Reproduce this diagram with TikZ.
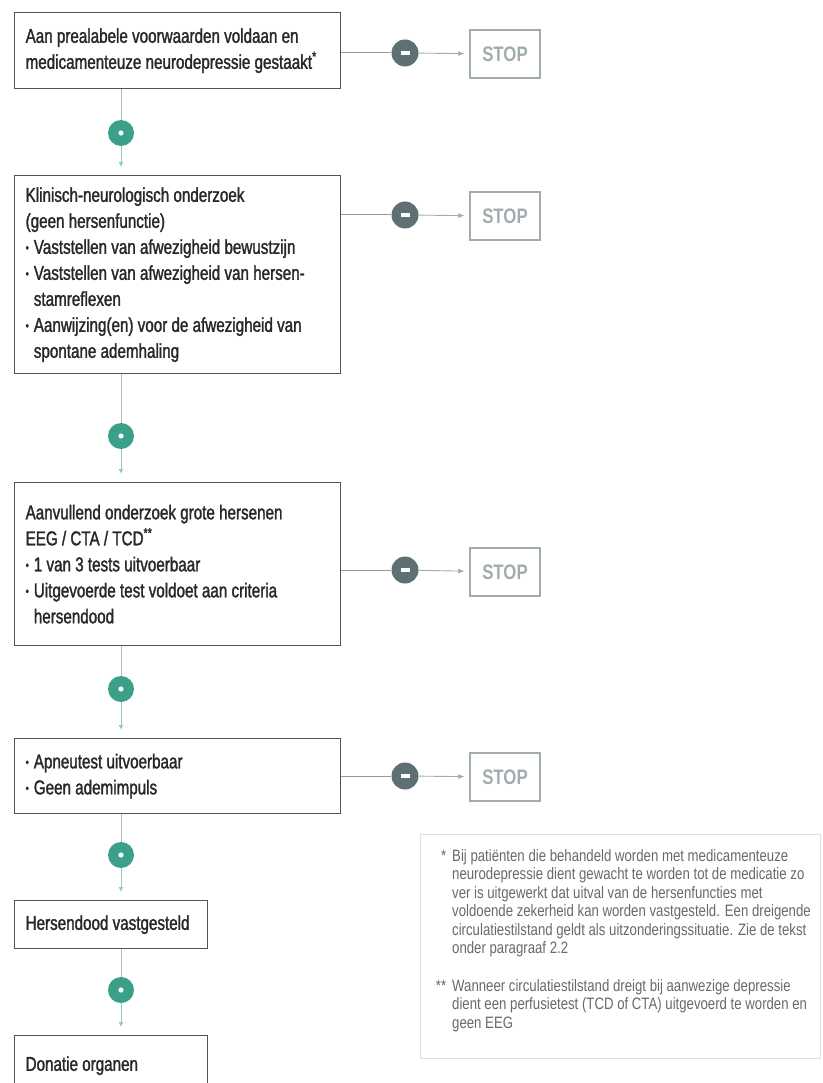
\documentclass[tikz,border=0pt]{standalone}
\usepackage{fontspec}
\setmainfont[FakeStretch=0.8]{Liberation Sans}
\newfontfamily\boxfont[FakeStretch=0.76, FakeBold=1.5]{Liberation Sans}
\usepackage{tikz}
\usetikzlibrary{arrows.meta}

\definecolor{flowgreen}{RGB}{58,160,137}
\definecolor{flowgrey}{RGB}{94,112,116}
\definecolor{stopgrey}{RGB}{160,172,174}
\definecolor{textgrey}{RGB}{40,40,40}
\definecolor{notegrey}{RGB}{105,105,105}

\newcommand{\boxtext}{\boxfont\fontsize{20}{26}\selectfont}
\newcommand{\notetext}{\fontsize{16.5}{18.5}\selectfont}
\newcommand{\bul}{\raisebox{2pt}{\fontsize{12}{12}\selectfont\textbullet}\hspace{5pt}}
\newcommand{\ind}{\phantom{\bul}}
\newcommand{\notemark}[1]{\makebox[14pt][r]{#1}\hspace{6pt}}

\begin{document}
\begin{tikzpicture}[x=1pt,y=-1pt]
	\tikzstyle{stepbox} = [draw=textgrey!80, line width=1.3pt, anchor=north west, inner xsep=11pt, inner ysep=0pt, align=flush left, text=textgrey, font=\boxtext]
	\tikzstyle{yesdot} = [circle, fill=flowgreen, minimum size=26pt, inner sep=0pt]
	\tikzstyle{nodot} = [circle, fill=flowgrey, minimum size=27pt, inner sep=0pt]
	\tikzstyle{stopbox} = [draw=stopgrey, line width=1.2pt, minimum width=70pt, minimum height=48pt, text=stopgrey, font=\fontsize{21}{21}\selectfont\bfseries]
	\tikzstyle{downline} = [draw=gray!55, line width=0.9pt]
	\tikzstyle{downarrow} = [draw=flowgreen!55, line width=0.9pt, shorten >=8pt, -{Latex[length=5pt,width=5pt]}]
	\tikzstyle{sideline} = [draw=gray!80, line width=1pt]
	\tikzstyle{sidearrow} = [draw=stopgrey, line width=0.9pt, shorten >=5pt, -{Latex[length=6pt,width=5pt]}]

	\clip (0,0) rectangle (822,1083);

	\draw (14,12) node[stepbox, text width=304pt, minimum height=76pt] (b1) {Aan prealabele voorwaarden voldaan en\\medicamenteuze neurodepressie gestaakt\textsuperscript{*}};
	\draw (14,175) node[stepbox, text width=304pt, minimum height=198pt] (b2) {Klinisch-neurologisch onderzoek\\(geen hersenfunctie)\\\bul Vaststellen van afwezigheid bewustzijn\\\bul Vaststellen van afwezigheid van hersen-\\\ind stamreflexen\\\bul Aanwijzing(en) voor de afwezigheid van\\\ind spontane ademhaling};
	\draw (14,482) node[stepbox, text width=304pt, minimum height=163pt] (b3) {Aanvullend onderzoek grote hersenen\\EEG / CTA / TCD\textsuperscript{**}\\\bul 1 van 3 tests uitvoerbaar\\\bul Uitgevoerde test voldoet aan criteria\\\ind hersendood};
	\draw (14,738) node[stepbox, text width=304pt, minimum height=75pt] (b4) {\bul Apneutest uitvoerbaar\\\bul Geen ademimpuls};
	\draw (14,900) node[stepbox, text width=171pt, minimum height=48pt] (b5) {Hersendood vastgesteld};
	\draw (14,1035) node[stepbox, text width=171pt, minimum height=60pt] (b6) {Donatie organen};

	\draw (121,133) node[yesdot] (g1) {};
	\draw (121,436) node[yesdot] (g2) {};
	\draw (121,689) node[yesdot] (g3) {};
	\draw (121,855) node[yesdot] (g4) {};
	\draw (121,990) node[yesdot] (g5) {};

	\draw (405,53) node[nodot] (m1) {};
	\draw (405,215) node[nodot] (m2) {};
	\draw (405,570) node[nodot] (m3) {};
	\draw (405,776) node[nodot] (m4) {};

	\draw (505,54) node[stopbox] (s1) {STOP};
	\draw (505,216) node[stopbox] (s2) {STOP};
	\draw (505,572) node[stopbox] (s3) {STOP};
	\draw (505,777) node[stopbox] (s4) {STOP};

	% dot and bar marks inside the circles
	\foreach \g in {g1,g2,g3,g4,g5}
		\fill[white] (\g) circle (2.6pt);
	\foreach \m in {m1,m2,m3,m4}
		\fill[white] ([xshift=-4.5pt,yshift=-1.6pt]\m.center) rectangle ([xshift=4.5pt,yshift=1.6pt]\m.center);

	\draw[downline] (g1 |- b1.south) -- (g1);
	\draw[downarrow] (g1) -- (g1 |- b2.north);
	\draw[downline] (g2 |- b2.south) -- (g2);
	\draw[downarrow] (g2) -- (g2 |- b3.north);
	\draw[downline] (g3 |- b3.south) -- (g3);
	\draw[downarrow] (g3) -- (g3 |- b4.north);
	\draw[downline] (g4 |- b4.south) -- (g4);
	\draw[downarrow] (g4) -- (g4 |- b5.north);
	\draw[downline] (g5 |- b5.south) -- (g5);
	\draw[downarrow] (g5) -- (g5 |- b6.north);

	\draw[sideline] (m1 -| b1.east) -- (m1);
	\draw[sidearrow] (m1) -- (s1);
	\draw[sideline] (m2 -| b2.east) -- (m2);
	\draw[sidearrow] (m2) -- (s2);
	\draw[sideline] (m3 -| b3.east) -- (m3);
	\draw[sidearrow] (m3) -- (s3);
	\draw[sideline] (m4 -| b4.east) -- (m4);
	\draw[sidearrow] (m4) -- (s4);

	% footnotes
	\draw (420,834) node[draw=gray!25, line width=1pt, anchor=north west, minimum width=400pt, minimum height=224pt] (nb) {};
	\node[anchor=north west, align=left, inner sep=0pt, text=notegrey, font=\notetext] (nt) at ([xshift=12pt,yshift=-15pt]nb.north west) {\notemark{*}Bij patiënten die behandeld worden met medicamenteuze\\\notemark{}neurodepressie dient gewacht te worden tot de medicatie zo\\\notemark{}ver is uitgewerkt dat uitval van de hersenfuncties met\\\notemark{}voldoende zekerheid kan worden vastgesteld. Een dreigende\\\notemark{}circulatiestilstand geldt als uitzonderingssituatie. Zie de tekst\\\notemark{}onder paragraaf 2.2\\[19pt]\notemark{**}Wanneer circulatiestilstand dreigt bij aanwezige depressie\\\notemark{}dient een perfusietest (TCD of CTA) uitgevoerd te worden en\\\notemark{}geen EEG};
\end{tikzpicture}
\end{document}
